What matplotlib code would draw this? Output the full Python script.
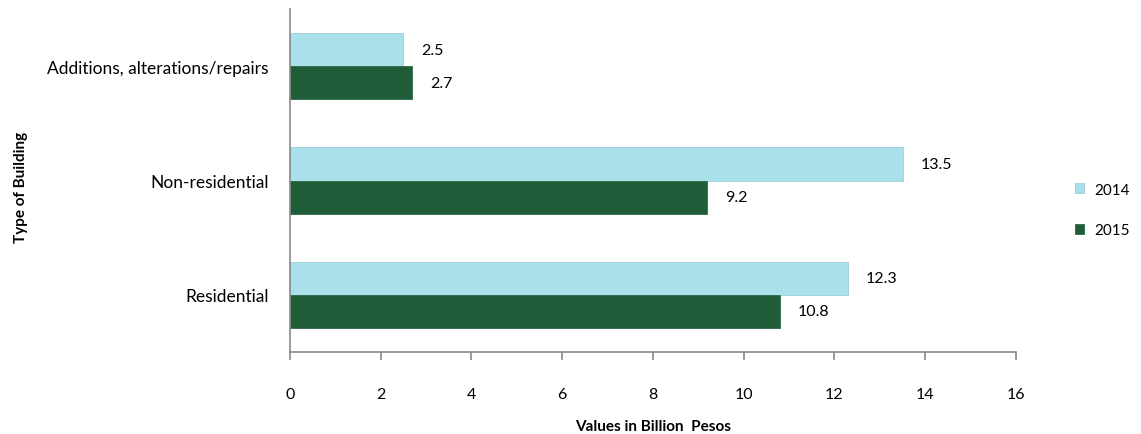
import matplotlib
matplotlib.use("Agg")
import matplotlib.pyplot as plt
import numpy as np

categories = ["Residential", "Non-residential", "Additions, alterations/repairs"]
series_names = ["2014", "2015"]
values_2014 = [12.3, 13.5, 2.5]
values_2015 = [10.8, 9.2, 2.7]
x_ticks = [0, 2, 4, 6, 8, 10, 12, 14, 16]

plt.rcParams['font.family'] = ['Lato', 'DejaVu Sans']

fig = plt.figure(figsize=(11.41, 4.35), dpi=100)
ax = fig.add_axes([0.254, 0.1885, 0.6365, 0.7885])

y = np.arange(len(categories))
h = 0.29
c14 = "#a9e1ea"
c15 = "#1f5c38"
b1 = ax.barh(y + h / 2, values_2014, height=h, color=c14, edgecolor="#9fcfd8", linewidth=0.6, label=series_names[0])
b2 = ax.barh(y - h / 2, values_2015, height=h, color=c15, edgecolor="#2d6b46", linewidth=0.6, label=series_names[1])

for bars, vals in ((b1, values_2014), (b2, values_2015)):
    for rect, v in zip(bars, vals):
        ax.annotate(f"{v}", (rect.get_width(), rect.get_y() + rect.get_height() / 2),
                    xytext=(13, 0), textcoords="offset points", va="center", ha="left",
                    fontsize=11.5, color="black")

ax.set_xlim(0, 16)
ax.set_ylim(-0.5, 2.5)
ax.set_xticks(x_ticks)
ax.set_xticklabels([str(t) for t in x_ticks], fontsize=11.5)
ax.set_yticks(y)
ax.set_yticklabels(categories, fontsize=12.5)

for s in ("top", "right"):
    ax.spines[s].set_visible(False)
for s in ("left", "bottom"):
    ax.spines[s].set_color("#898989")
    ax.spines[s].set_linewidth(1.2)
ax.tick_params(axis="x", direction="out", length=6, color="#898989", width=1.2, pad=19)
ax.tick_params(axis="y", length=0, pad=15)

ax.set_xlabel("Values in Billion  Pesos", fontsize=11, fontweight="bold", va="center")
ax.xaxis.set_label_coords(0.5, -0.216)
fig.text(0.018, 0.57, "Type of Building", rotation=90, fontsize=11, fontweight="bold", va="center", ha="center")

leg = fig.legend(handles=[b1, b2], labels=series_names, loc="center left",
                 bbox_to_anchor=(0.93, 0.515), frameon=False, fontsize=11,
                 handlelength=0.6, handleheight=0.6, labelspacing=1.75, handletextpad=0.7)

fig.savefig("out.png", dpi=100)
